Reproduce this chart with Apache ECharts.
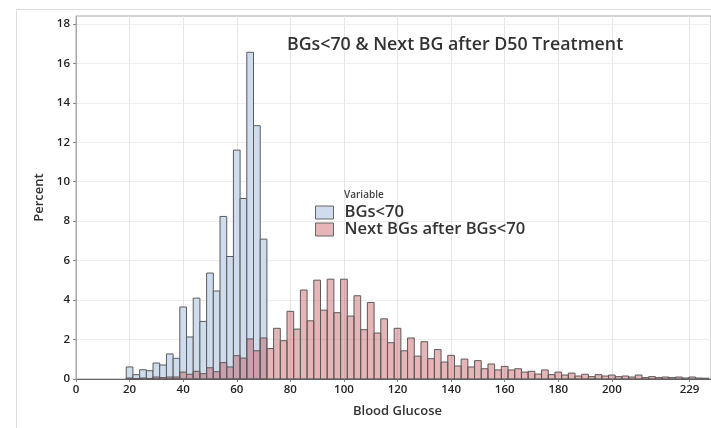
<!DOCTYPE html>
<html>
<head>
<meta charset="utf-8">
<script src="https://cdn.jsdelivr.net/npm/echarts@6/dist/echarts.min.js"></script>
<style>html,body{margin:0;padding:0;background:#fff;}#c{width:711px;height:428px;}</style>
</head>
<body>
<div id="c"></div>
<script>
var blueBins = [20,22.5,25,27.5,30,32.5,35,37.5,40,42.5,45,47.5,50,52.5,55,57.5,60,62.5,65,67.5,70];
var blueValues = [0.61,0.22,0.47,0.42,0.81,0.71,1.27,1.05,3.65,2.13,4.1,2.92,5.37,4.46,8.24,6.21,11.6,9.15,16.56,12.84,7.09];

var redBins = [20,22.5,25,27.5,30,32.5,35,37.5,40,42.5,45,47.5,50,52.5,55,57.5,60,62.5,65,67.5,
  70,72.5,75,77.5,80,82.5,85,87.5,90,92.5,95,97.5,100,102.5,105,107.5,110,112.5,115,117.5,
  120,122.5,125,127.5,130,132.5,135,137.5,140,142.5,145,147.5,150,152.5,155,157.5,160,162.5,165,167.5,
  170,172.5,175,177.5,180,182.5,185,187.5,190,192.5,195,197.5,200,202.5,205,207.5,210,212.5,215,217.5,
  220,222.5,225,227.5,230,232.5,235];
var redValues = [0.05,0.02,0.05,0.03,0.1,0.07,0.1,0.1,0.35,0.24,0.39,0.27,0.57,0.37,0.83,0.61,1.18,1.06,2.03,1.43,
  2.08,1.54,2.57,1.94,3.43,2.53,4.51,2.95,5.01,3.49,5.06,3.36,5.06,3.19,4.22,2.5,3.88,2.33,3.05,1.84,
  2.57,1.43,2.08,1.16,1.89,1.03,1.49,0.86,1.2,0.66,1.01,0.61,0.93,0.52,0.76,0.46,0.64,0.46,0.52,0.35,
  0.39,0.25,0.46,0.22,0.35,0.2,0.3,0.15,0.24,0.12,0.22,0.15,0.2,0.12,0.15,0.1,0.2,0.07,0.12,0.07,
  0.1,0.07,0.1,0.05,0.1,0.05,0.04];

var xTicks = [0,20,40,60,80,100,120,140,160,180,200,229];
var yTicks = [0,2,4,6,8,10,12,14,16,18];
var binWidth = 2.5;

var blueFill = '#cfdcee';
var redFill = 'rgba(192,70,77,0.4)';
var font = 'Open Sans';

function pairs(b, v){ return b.map(function(x,i){ return [x, v[i]]; }); }
function makeRender(fill){
  return function(params, api){
    var mid = api.value(0), v = api.value(1);
    var p0 = api.coord([mid - binWidth/2, v]);
    var p1 = api.coord([mid + binWidth/2, 0]);
    return {type:'rect', shape:{x:p0[0], y:p0[1], width:p1[0]-p0[0], height:p1[1]-p0[1]},
      style:{fill:fill, stroke:'#5a5a5a', lineWidth:1}};
  };
}

var chart = echarts.init(document.getElementById('c'), null, {renderer:'canvas'});
chart.setOption({
  animation:false,
  graphic:[{type:'rect', silent:true, z:-10, shape:{x:16.5,y:9.5,width:800,height:500}, style:{fill:'none', stroke:'#dcdcdc', lineWidth:1}}],
  title:[
    {text:'BGs<70 & Next BG after D50 Treatment', left:287, top:36, padding:0, textStyle:{fontFamily:font, fontSize:17.8, fontWeight:600, color:'#333'}},
    {text:'Variable', left:344, top:190, padding:0, textStyle:{fontFamily:font, fontSize:10, fontWeight:600, color:'#444'}}
  ],
  legend:{
    orient:'vertical', left:315, top:204, padding:0, itemWidth:18, itemHeight:13, itemGap:0,
    textStyle:{fontFamily:font, fontSize:16.6, lineHeight:13, fontWeight:600, color:'#333', padding:[0,0,0,6]},
    data:[
      {name:'BGs<70', icon:'rect', itemStyle:{color:blueFill, borderColor:'#666', borderWidth:1}},
      {name:'Next BGs after BGs<70', icon:'rect', itemStyle:{color:redFill, borderColor:'#666', borderWidth:1}}
    ]
  },
  grid:{left:76, top:16, right:0, bottom:49, show:true, borderColor:'#a8a8a8', borderWidth:1},
  xAxis:{
    type:'value', min:0, max:237,
    name:'Blood Glucose', nameLocation:'middle', nameGap:26,
    nameTextStyle:{fontFamily:font, fontSize:13, fontWeight:600, color:'#333', padding:[0,0,0,8]},
    axisLine:{show:true, lineStyle:{color:'#666'}},
    axisTick:{show:true, length:3, lineStyle:{color:'#888'}, customValues:xTicks},
    axisLabel:{fontFamily:font, fontSize:11.5, fontWeight:600, color:'#222', margin:5, customValues:xTicks},
    splitLine:{show:true, lineStyle:{color:'#e6e6e6'}}
  },
  yAxis:{
    type:'value', min:0, max:18.4,
    name:'Percent', nameLocation:'middle', nameGap:30,
    nameTextStyle:{fontFamily:font, fontSize:13, fontWeight:600, color:'#333'},
    axisLine:{show:true, lineStyle:{color:'#a8a8a8'}},
    axisTick:{show:true, length:3, lineStyle:{color:'#888'}, customValues:yTicks},
    axisLabel:{fontFamily:font, fontSize:11.5, fontWeight:600, color:'#222', margin:6, customValues:yTicks},
    splitLine:{show:true, lineStyle:{color:'#ededed'}}
  },
  series:[
    {name:'BGs<70', type:'custom', renderItem:makeRender(blueFill), data:pairs(blueBins, blueValues), itemStyle:{color:blueFill}, z:2},
    {name:'Next BGs after BGs<70', type:'custom', renderItem:makeRender(redFill), data:pairs(redBins, redValues), itemStyle:{color:redFill}, z:3}
  ]
});
</script>
</body>
</html>
